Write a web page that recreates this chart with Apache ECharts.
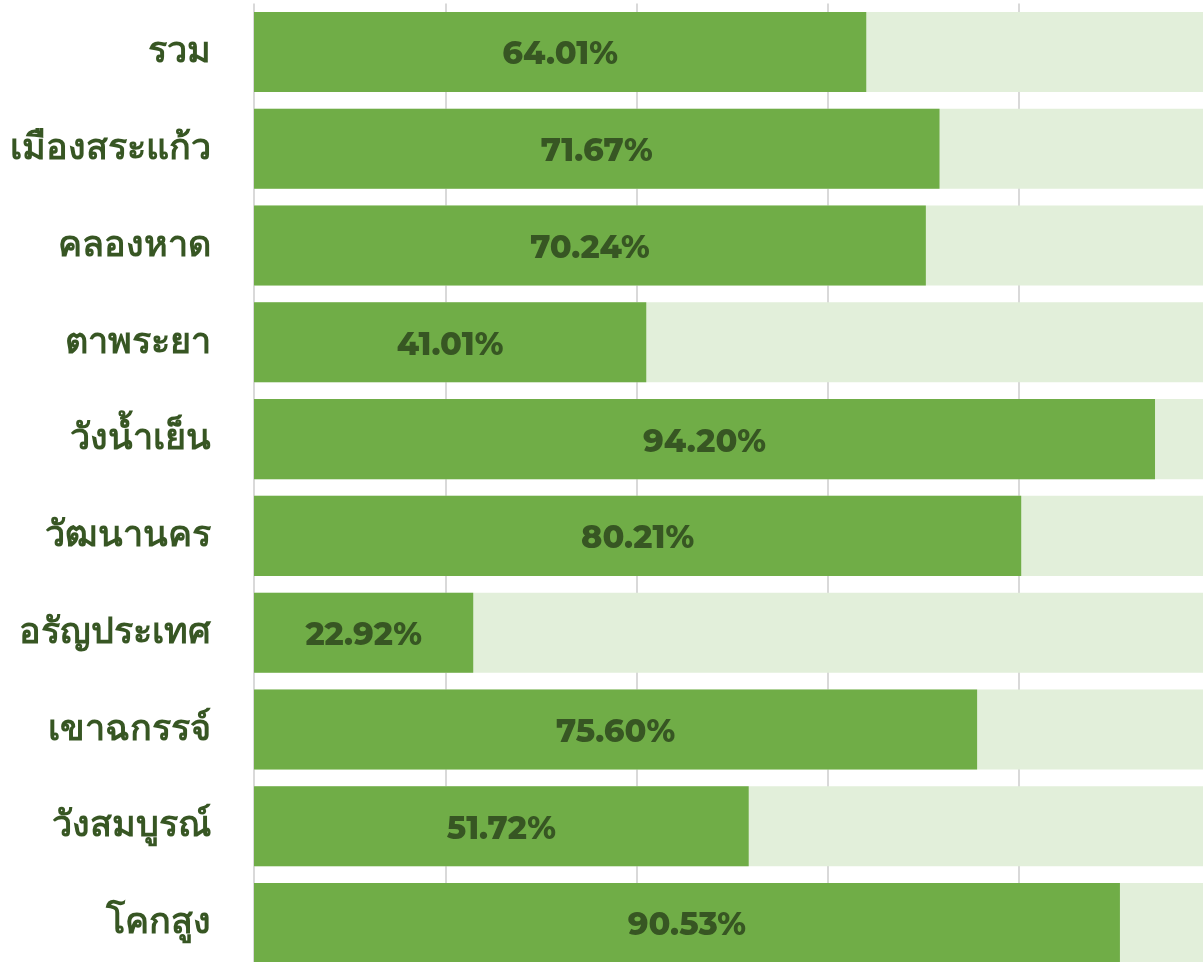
<!DOCTYPE html>
<html>
<head>
<meta charset="utf-8">
<script src="https://cdn.jsdelivr.net/npm/echarts@6/dist/echarts.min.js"></script>
<style>
html,body{margin:0;padding:0;background:#fff;}
#chart{width:1203px;height:962px;}
</style>
</head>
<body>
<div id="chart"></div>
<script>
const categories = ['รวม','เมืองสระแก้ว','คลองหาด','ตาพระยา','วังน้ำเย็น','วัฒนานคร','อรัญประเทศ','เขาฉกรรจ์','วังสมบูรณ์','โคกสูง'];
const values = [64.01, 71.67, 70.24, 41.01, 94.20, 80.21, 22.92, 75.60, 51.72, 90.53];
const axisMax = 100;

const chart = echarts.init(document.getElementById('chart'));
chart.setOption({
  animation: false,
  grid: { left: 254, top: 3.6, width: 956.5, height: 967.8, containLabel: false, outerBoundsMode: 'none' },
  xAxis: {
    type: 'value', min: 0, max: axisMax, interval: 20,
    axisLabel: { show: false }, axisLine: { show: false }, axisTick: { show: false },
    splitLine: { show: true, lineStyle: { color: '#d9d9d9', width: 2 } }
  },
  yAxis: {
    type: 'category', data: categories, inverse: true,
    axisLine: { show: false }, axisTick: { show: false },
    axisLabel: {
      color: '#375623', fontWeight: 900, fontSize: 36, margin: 43,
      fontFamily: 'Noto Sans, sans-serif'
    }
  },
  series: [{
    type: 'bar',
    data: values,
    barCategoryGap: '17.3%',
    itemStyle: { color: '#70ad47' },
    showBackground: true,
    backgroundStyle: { color: '#e2efda' },
    label: {
      show: true, position: 'inside', offset: [0, 3], color: '#375623', fontWeight: 800, fontSize: 32,
      fontFamily: 'Montserrat, Noto Sans, sans-serif',
      formatter: p => p.value.toFixed(2) + '%'
    }
  }]
});
</script>
</body>
</html>
